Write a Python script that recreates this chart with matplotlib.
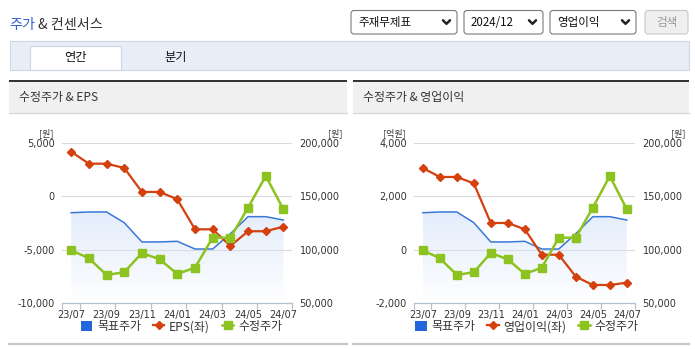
import matplotlib
matplotlib.use('Agg')
import matplotlib.pyplot as plt
import numpy as np
from matplotlib.patches import Rectangle, FancyBboxPatch, Patch
from matplotlib.lines import Line2D
from matplotlib.ticker import FuncFormatter

plt.rcParams['font.family'] = ['Noto Sans CJK KR', 'DejaVu Sans']

# ---------------- data ----------------
months = ['23/07', '23/08', '23/09', '23/10', '23/11', '23/12', '24/01',
          '24/02', '24/03', '24/04', '24/05', '24/06', '24/07']
target_price = [134600, 135300, 135300, 125300, 107300, 107300, 107900,
                100700, 100700, 115000, 130900, 130900, 127800]
adj_price = [99500, 92100, 76500, 79000, 97000, 91100, 77400,
             83300, 111300, 111300, 139300, 168900, 137800]
eps = [4160, 3040, 3040, 2640, 400, 400, -285,
       -3090, -3090, -4645, -3270, -3270, -2840]
op_income = [3055, 2720, 2720, 2480, 1000, 1000, 765,
             -185, -185, -1005, -1315, -1315, -1230]

eps_ticks = [-10000, -5000, 0, 5000]
op_ticks = [-2000, 0, 2000, 4000]
price_ticks = [50000, 100000, 150000, 200000]

legend_left = ['목표주가', 'EPS(좌)', '수정주가']
legend_right = ['목표주가', '영업이익(좌)', '수정주가']

# ---------------- style ----------------
W, H = 695, 349
RED = '#d4400e'
GREEN = '#8cc320'
BLUE = '#3a78d8'
BLUE_SQ = '#2266dd'
TXT = '#333333'
NUMFONT = ['Liberation Sans Narrow', 'DejaVu Sans']
CJK = ['Noto Sans CJK KR', 'DejaVu Sans']

fig = plt.figure(figsize=(W / 100, H / 100), dpi=100)
fig.patch.set_facecolor('white')

bg = fig.add_axes([0, 0, 1, 1])
bg.set_xlim(0, W)
bg.set_ylim(H, 0)
bg.axis('off')
bg.set_zorder(-10)

# title
t1 = bg.text(9, 25, '주가', color='#2f5fd0', fontsize=10.2, va='center', family=CJK)
fig.canvas.draw()
bb = t1.get_window_extent()
bg.text(9 + bb.width + 3.5, 25, '& 컨센서스', color=TXT, fontsize=10.2, va='center', family=CJK)

# dropdowns
def dropdown(x0, x1, label, chev):
    bg.add_patch(FancyBboxPatch((x0, 10.5), x1 - x0, 23.5,
                                boxstyle='round,pad=0,rounding_size=3',
                                fc='white', ec='#7a7a7a', lw=0.8))
    bg.text(x0 + 7, 22.5, label, fontsize=8.3, va='center', color='#111111', family=CJK)
    bg.add_line(Line2D([chev - 3.5, chev, chev + 3.5], [20.3, 23.8, 20.3],
                       color='#222222', lw=1.8, solid_capstyle='round'))

dropdown(351, 457, '주재무제표', 446.5)
dropdown(464, 543, '2024/12', 532.5)
dropdown(550, 636, '영업이익', 625.5)
bg.add_patch(FancyBboxPatch((645, 10.5), 43, 23.5, boxstyle='round,pad=0,rounding_size=3',
                            fc='#efefef', ec='#c8c8c8', lw=0.8))
bg.text(666.5, 22.5, '검색', fontsize=8.3, va='center', ha='center', color='#9a9a9a', family=CJK)

# tab band
bg.add_patch(Rectangle((9.5, 40.5), 679, 29.5, fc='#e8eef8', ec='#cdd6e4', lw=0.8))
bg.add_patch(Rectangle((29.5, 45.5), 91, 24.5, fc='white', ec='#cdd6e4', lw=0.8))
bg.text(75, 57.5, '연간', fontsize=8.8, ha='center', va='center', color='#111111', family=CJK)
bg.text(176, 57.5, '분기', fontsize=8.8, ha='center', va='center', color='#111111', family=CJK)

# panel headers
for (x0, x1, title) in [(9, 347, '수정주가 & EPS'), (353, 689, '수정주가 & 영업이익')]:
    bg.add_patch(Rectangle((x0, 80), x1 - x0, 2.2, fc='#333333', ec='none'))
    bg.add_patch(Rectangle((x0, 82.2), x1 - x0, 30.8, fc='#f0f0f0', ec='none'))
    bg.add_line(Line2D([x0, x1], [113, 113], color='#dadada', lw=1))
    bg.text(x0 + 10, 98, title, fontsize=8.6, va='center', color=TXT, family=CJK)
    bg.add_line(Line2D([x0, x1], [343.5, 343.5], color='#c8c8c8', lw=1.6))

fmt = FuncFormatter(lambda v, p: f'{v:,.0f}')
x = np.arange(len(months))


def panel(px0, px1, left_vals, left_ticks, left_unit, left_unit_x, right_unit_x,
          labels, legend_cx):
    ax = fig.add_axes([px0 / W, (H - 303.3) / H, (px1 - px0) / W, 160.6 / H])
    ax2 = ax.twinx()
    ax.set_xlim(-0.5, len(months) - 0.5)
    ax.set_ylim(left_ticks[0], left_ticks[-1])
    ax2.set_xlim(-0.5, len(months) - 0.5)
    ax2.set_ylim(price_ticks[0], price_ticks[-1])

    ax.set_yticks(left_ticks)
    ax.yaxis.set_major_formatter(fmt)
    ax.grid(axis='y', color='#dadada', lw=0.8)
    ax.set_axisbelow(True)
    ax2.set_yticks(price_ticks)
    ax2.yaxis.set_major_formatter(fmt)

    # target price gradient fill
    poly = ax2.fill_between(x, target_price, price_ticks[0], color='none', lw=0)
    top = max(target_price)
    n = 256
    grad = np.zeros((n, 2, 4))
    tvals = np.linspace(0, 1, n)[:, None]
    grad[..., :3] = np.array([0.83, 0.89, 0.975])
    grad[..., 3] = 0.62 * tvals ** 0.9
    img = ax2.imshow(grad, extent=[x[0], x[-1], price_ticks[0], top], origin='lower',
                     aspect='auto', zorder=0.2, interpolation='bilinear')
    img.set_clip_path(poly.get_paths()[0], ax2.transData)
    ax2.set_xlim(-0.5, len(months) - 0.5)
    ax2.set_ylim(price_ticks[0], price_ticks[-1])

    ax2.plot(x, target_price, color=BLUE, lw=1.1, zorder=2)
    # left-axis series drawn in the upper axes, through the left axis' data transform
    ax2.plot(x, left_vals, color=RED, lw=1.6, marker='D', ms=4.2, zorder=3,
             transform=ax.transData)
    ax2.plot(x, adj_price, color=GREEN, lw=1.8, marker='s', ms=5.5, zorder=4)
    ax2.set_xlim(-0.5, len(months) - 0.5)
    ax2.set_ylim(price_ticks[0], price_ticks[-1])

    # x axis
    ax.set_xticks(x[::2])
    ax.set_xticklabels(months[::2])
    ax.set_xticks([-0.5] + list(np.arange(0.5, len(months) - 1, 2)) + [len(months) - 0.5],
                  minor=True)
    ax.tick_params(axis='x', which='major', length=0, pad=4.5, labelsize=7, labelcolor=TXT)
    ax.tick_params(axis='x', which='minor', length=4, color='#b4c0d4', width=0.9)
    ax.tick_params(axis='y', length=0, pad=5.3, labelsize=7, labelcolor=TXT)
    ax2.tick_params(axis='y', length=0, pad=5.3, labelsize=7, labelcolor=TXT)
    for lab in ax.get_xticklabels() + ax.get_yticklabels() + ax2.get_yticklabels():
        lab.set_family(NUMFONT)
    for s in ['top', 'left', 'right']:
        ax.spines[s].set_visible(False)
        ax2.spines[s].set_visible(False)
    ax2.spines['bottom'].set_visible(False)
    ax.spines['bottom'].set_color('#b4c0d4')
    ax.spines['bottom'].set_linewidth(0.9)

    bg.text(left_unit_x, 132.8, left_unit, fontsize=6.5, ha='center', va='center',
            color=TXT, family=CJK)
    bg.text(right_unit_x, 132.8, '[원]', fontsize=6.5, ha='center', va='center',
            color=TXT, family=CJK)

    handles = [Patch(facecolor=BLUE_SQ, edgecolor='none'),
               Line2D([], [], color=RED, lw=1.6, marker='D', ms=4.2),
               Line2D([], [], color=GREEN, lw=1.8, marker='s', ms=5.5)]
    fig.legend(handles, labels, loc='center', bbox_to_anchor=(legend_cx / W, 1 - 326.7 / H),
               ncol=3, frameon=False, handlelength=0.95, handleheight=1.0,
               handletextpad=0.4, columnspacing=1.0, borderpad=0, borderaxespad=0,
               labelcolor=TXT, prop={'family': CJK, 'size': 8.6})
    return ax, ax2


panel(62.3, 292.3, eps, eps_ticks, '[원]', 46.3, 335, legend_left, 181.4)
panel(414.3, 635.3, op_income, op_ticks, '[억원]', 394, 678.7, legend_right, 526.8)

fig.savefig('out.png', dpi=100, facecolor='white')
